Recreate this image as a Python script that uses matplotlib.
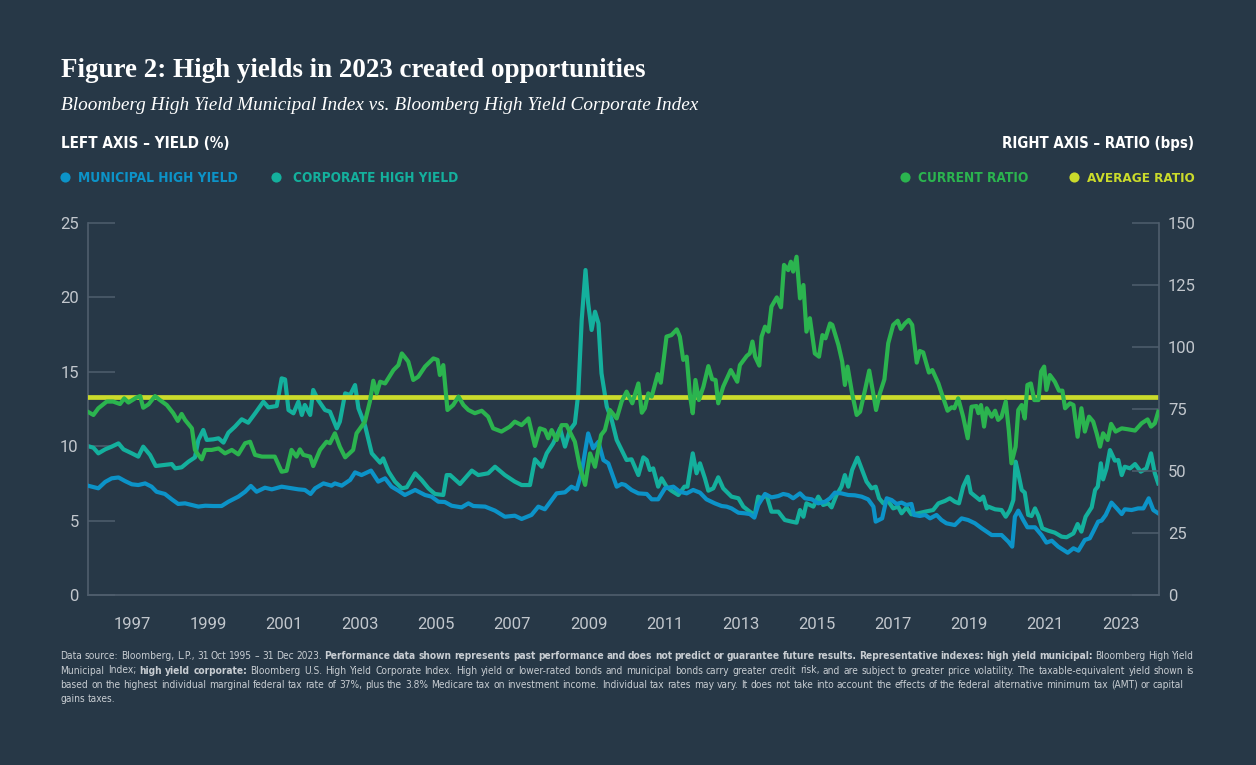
import matplotlib
matplotlib.use("Agg")
import matplotlib.pyplot as plt
from matplotlib import font_manager
from matplotlib.lines import Line2D
from matplotlib.transforms import IdentityTransform

# ---- values (fractional years) ----
muni_year = [
    1995.83, 1996.11, 1996.29, 1996.46, 1996.64, 1996.81, 1996.99, 1997.16, 1997.34, 1997.51,
    1997.64, 1997.86, 1998.04, 1998.21, 1998.39, 1998.57, 1998.74, 1998.92, 1999.13, 1999.35,
    1999.53, 1999.79, 1999.97, 2000.12, 2000.27, 2000.49, 2000.67, 2000.93, 2001.19, 2001.37,
    2001.54, 2001.69, 2001.81, 2002.03, 2002.24, 2002.33, 2002.51, 2002.73, 2002.86, 2003.03,
    2003.28, 2003.47, 2003.65, 2003.82, 2004.00, 2004.17, 2004.44, 2004.70, 2004.87, 2005.05,
    2005.22, 2005.40, 2005.66, 2005.84, 2005.97, 2006.28, 2006.54, 2006.80, 2007.06, 2007.24,
    2007.50, 2007.68, 2007.85, 2008.03, 2008.16, 2008.38, 2008.55, 2008.69, 2008.82, 2008.99,
    2009.12, 2009.26, 2009.39, 2009.52, 2009.74, 2009.87, 2009.96, 2010.13, 2010.31, 2010.53,
    2010.66, 2010.83, 2011.01, 2011.23, 2011.40, 2011.58, 2011.75, 2011.93, 2012.10, 2012.32,
    2012.50, 2012.63, 2012.76, 2012.94, 2013.11, 2013.24, 2013.36, 2013.46, 2013.64, 2013.81,
    2013.99, 2014.12, 2014.25, 2014.38, 2014.56, 2014.69, 2014.87, 2015.04, 2015.22, 2015.35,
    2015.48, 2015.65, 2015.83, 2016.00, 2016.18, 2016.35, 2016.49, 2016.55, 2016.72, 2016.84,
    2016.97, 2017.10, 2017.23, 2017.36, 2017.49, 2017.56, 2017.71, 2017.85, 2017.98, 2018.15,
    2018.28, 2018.41, 2018.63, 2018.81, 2018.98, 2019.16, 2019.34, 2019.60, 2019.86, 2020.04,
    2020.14, 2020.21, 2020.30, 2020.43, 2020.54, 2020.74, 2020.91, 2021.04, 2021.18, 2021.35,
    2021.60, 2021.75, 2021.88, 2022.05, 2022.18, 2022.27, 2022.40, 2022.49, 2022.60, 2022.75,
    2022.89, 2023.02, 2023.10, 2023.28, 2023.45, 2023.59, 2023.73, 2023.85, 2023.98,
]
muni_yield = [
    7.35, 7.17, 7.6, 7.84, 7.9, 7.66, 7.44, 7.39, 7.5, 7.28,
    6.94, 6.79, 6.43, 6.12, 6.16, 6.05, 5.94, 6.0, 5.98, 5.98,
    6.27, 6.61, 6.94, 7.33, 6.94, 7.21, 7.1, 7.28, 7.17, 7.1,
    7.06, 6.79, 7.17, 7.5, 7.35, 7.5, 7.35, 7.73, 8.24, 8.06,
    8.36, 7.62, 7.84, 7.28, 7.01, 6.72, 7.06, 6.72, 6.61, 6.27,
    6.25, 6.0, 5.89, 6.16, 5.98, 5.94, 5.67, 5.26, 5.33, 5.11,
    5.38, 5.94, 5.76, 6.38, 6.83, 6.9, 7.28, 7.1, 8.29, 10.86,
    9.86, 10.3, 9.07, 8.85, 7.28, 7.46, 7.4, 7.06, 6.83, 6.79,
    6.43, 6.43, 7.17, 7.28, 6.94, 6.83, 7.06, 6.88, 6.43, 6.16,
    5.98, 5.94, 5.82, 5.53, 5.49, 5.44, 5.2, 6.05, 6.79, 6.56,
    6.65, 6.79, 6.72, 6.5, 6.83, 6.5, 6.43, 6.16, 6.27, 6.5,
    6.88, 6.83, 6.72, 6.7, 6.61, 6.43, 5.94, 4.93, 5.15, 6.5,
    6.38, 6.12, 6.21, 6.05, 6.12, 5.38, 5.31, 5.38, 5.15, 5.38,
    5.04, 4.82, 4.7, 5.15, 5.04, 4.82, 4.48, 4.03, 4.03, 3.58,
    3.25, 5.26, 5.67, 5.04, 4.55, 4.55, 4.03, 3.52, 3.65, 3.25,
    2.84, 3.14, 2.98, 3.7, 3.81, 4.26, 4.93, 5.0, 5.38, 6.21,
    5.82, 5.44, 5.76, 5.71, 5.82, 5.82, 6.5, 5.71, 5.49,
]

corp_year = [
    1995.83, 1995.98, 1996.11, 1996.29, 1996.46, 1996.64, 1996.77, 1996.99, 1997.16, 1997.29,
    1997.47, 1997.62, 1997.86, 1998.04, 1998.13, 1998.30, 1998.48, 1998.65, 1998.74, 1998.87,
    1998.96, 1999.13, 1999.27, 1999.40, 1999.53, 1999.70, 1999.88, 2000.05, 2000.23, 2000.45,
    2000.58, 2000.80, 2000.93, 2001.02, 2001.11, 2001.24, 2001.37, 2001.46, 2001.54, 2001.68,
    2001.76, 2001.89, 2002.07, 2002.20, 2002.38, 2002.46, 2002.60, 2002.73, 2002.86, 2002.95,
    2003.12, 2003.30, 2003.52, 2003.60, 2003.74, 2003.91, 2004.09, 2004.22, 2004.44, 2004.61,
    2004.79, 2004.96, 2005.18, 2005.27, 2005.36, 2005.62, 2005.93, 2006.10, 2006.36, 2006.54,
    2006.80, 2007.06, 2007.24, 2007.46, 2007.59, 2007.77, 2007.90, 2008.07, 2008.25, 2008.38,
    2008.51, 2008.64, 2008.73, 2008.82, 2008.92, 2008.99, 2009.08, 2009.17, 2009.26, 2009.34,
    2009.48, 2009.61, 2009.74, 2009.87, 2010.00, 2010.13, 2010.31, 2010.44, 2010.53, 2010.61,
    2010.70, 2010.83, 2010.92, 2011.05, 2011.18, 2011.36, 2011.52, 2011.60, 2011.74, 2011.84,
    2011.93, 2012.06, 2012.15, 2012.28, 2012.41, 2012.54, 2012.76, 2012.94, 2013.07, 2013.24,
    2013.37, 2013.46, 2013.55, 2013.68, 2013.81, 2013.99, 2014.16, 2014.34, 2014.47, 2014.56,
    2014.65, 2014.73, 2014.91, 2015.04, 2015.17, 2015.30, 2015.39, 2015.52, 2015.65, 2015.74,
    2015.83, 2015.93, 2016.07, 2016.20, 2016.31, 2016.44, 2016.55, 2016.64, 2016.75, 2016.86,
    2017.01, 2017.14, 2017.23, 2017.36, 2017.49, 2017.67, 2017.85, 2018.06, 2018.20, 2018.37,
    2018.50, 2018.63, 2018.74, 2018.85, 2018.97, 2019.05, 2019.16, 2019.29, 2019.38, 2019.47,
    2019.51, 2019.69, 2019.86, 2019.97, 2020.08, 2020.17, 2020.23, 2020.30, 2020.39, 2020.47,
    2020.56, 2020.65, 2020.74, 2020.83, 2020.93, 2021.09, 2021.26, 2021.44, 2021.57, 2021.75,
    2021.86, 2021.96, 2022.07, 2022.23, 2022.32, 2022.39, 2022.47, 2022.53, 2022.62, 2022.71,
    2022.84, 2022.93, 2023.02, 2023.10, 2023.24, 2023.37, 2023.52, 2023.67, 2023.79, 2023.89,
    2023.98,
]
corp_yield = [
    10.01, 9.9, 9.52, 9.79, 9.97, 10.19, 9.79, 9.52, 9.3, 9.97,
    9.41, 8.67, 8.74, 8.8, 8.51, 8.58, 8.96, 9.25, 10.42, 11.09,
    10.42, 10.46, 10.53, 10.24, 10.91, 11.31, 11.81, 11.58, 12.2, 12.99,
    12.61, 12.7, 14.56, 14.49, 12.43, 12.21, 12.99, 12.1, 12.77, 12.1,
    13.78, 13.1, 12.43, 12.32, 11.2, 11.65, 13.55, 13.44, 14.11, 12.54,
    11.42, 9.52, 8.89, 9.18, 8.29, 7.62, 7.17, 7.24, 8.18, 7.73,
    7.17, 6.79, 6.72, 8.06, 8.06, 7.46, 8.36, 8.06, 8.18, 8.62,
    8.06, 7.62, 7.39, 7.39, 9.12, 8.62, 9.52, 10.19, 11.2, 9.97,
    11.09, 11.54, 13.55, 18.48, 21.84, 19.6, 17.81, 19.04, 18.26, 14.9,
    12.66, 11.76, 10.42, 9.74, 9.07, 9.12, 8.06, 9.25, 9.07, 8.4,
    8.51, 7.28, 7.84, 7.28, 7.01, 6.72, 7.28, 7.28, 9.52, 8.18,
    8.85, 7.84, 7.01, 7.17, 7.91, 7.17, 6.61, 6.5, 5.94, 5.6,
    5.38, 6.61, 6.5, 6.72, 5.6, 5.6, 5.04, 4.93, 4.86, 5.71,
    5.26, 6.16, 5.94, 6.61, 6.05, 6.16, 5.89, 6.72, 7.28, 8.06,
    7.28, 8.4, 9.23, 8.36, 7.62, 7.17, 7.28, 6.5, 6.16, 6.38,
    5.82, 5.94, 5.49, 5.89, 5.42, 5.49, 5.6, 5.71, 6.16, 6.32,
    6.5, 6.27, 6.16, 7.28, 7.95, 6.88, 6.65, 6.38, 6.61, 5.82,
    5.94, 5.76, 5.71, 5.26, 5.71, 6.38, 8.96, 8.18, 7.06, 6.88,
    5.38, 5.31, 5.82, 5.31, 4.48, 4.32, 4.19, 3.92, 3.88, 4.14,
    4.77, 4.26, 5.26, 5.89, 7.06, 7.28, 8.85, 7.77, 8.51, 9.74,
    9.03, 9.07, 8.06, 8.62, 8.51, 8.8, 8.29, 8.51, 9.52, 8.18,
    7.5,
]

ratio_year = [
    1995.83, 1995.98, 1996.11, 1996.33, 1996.50, 1996.68, 1996.79, 1996.90, 1997.12, 1997.21,
    1997.29, 1997.43, 1997.60, 1997.73, 1997.91, 1998.08, 1998.20, 1998.30, 1998.39, 1998.57,
    1998.65, 1998.74, 1998.83, 1998.92, 1999.09, 1999.27, 1999.44, 1999.62, 1999.79, 1999.97,
    2000.10, 2000.23, 2000.41, 2000.75, 2000.93, 2001.06, 2001.19, 2001.32, 2001.41, 2001.50,
    2001.68, 2001.76, 2001.94, 2002.11, 2002.20, 2002.33, 2002.46, 2002.60, 2002.81, 2002.90,
    2003.12, 2003.25, 2003.34, 2003.43, 2003.52, 2003.65, 2003.87, 2004.00, 2004.09, 2004.16,
    2004.26, 2004.39, 2004.52, 2004.70, 2004.92, 2005.03, 2005.09, 2005.18, 2005.29, 2005.44,
    2005.58, 2005.71, 2005.84, 2006.01, 2006.19, 2006.36, 2006.49, 2006.71, 2006.93, 2007.06,
    2007.24, 2007.42, 2007.59, 2007.72, 2007.85, 2007.94, 2008.03, 2008.16, 2008.29, 2008.42,
    2008.64, 2008.77, 2008.91, 2009.04, 2009.17, 2009.33, 2009.43, 2009.56, 2009.74, 2009.87,
    2010.00, 2010.15, 2010.31, 2010.40, 2010.48, 2010.57, 2010.66, 2010.82, 2010.90, 2011.05,
    2011.18, 2011.32, 2011.40, 2011.49, 2011.58, 2011.67, 2011.74, 2011.81, 2011.90, 2012.02,
    2012.15, 2012.25, 2012.34, 2012.41, 2012.54, 2012.74, 2012.91, 2012.98, 2013.16, 2013.24,
    2013.31, 2013.38, 2013.49, 2013.55, 2013.64, 2013.73, 2013.81, 2013.95, 2014.06, 2014.14,
    2014.25, 2014.32, 2014.38, 2014.47, 2014.56, 2014.65, 2014.73, 2014.82, 2014.95, 2015.06,
    2015.15, 2015.23, 2015.35, 2015.41, 2015.57, 2015.67, 2015.74, 2015.81, 2015.93, 2016.05,
    2016.14, 2016.27, 2016.38, 2016.47, 2016.56, 2016.66, 2016.78, 2016.88, 2017.01, 2017.13,
    2017.21, 2017.32, 2017.42, 2017.51, 2017.63, 2017.71, 2017.80, 2017.95, 2018.04, 2018.20,
    2018.30, 2018.44, 2018.55, 2018.62, 2018.72, 2018.85, 2018.97, 2019.07, 2019.20, 2019.25,
    2019.32, 2019.40, 2019.47, 2019.60, 2019.69, 2019.77, 2019.86, 2019.97, 2020.05, 2020.12,
    2020.23, 2020.30, 2020.39, 2020.47, 2020.54, 2020.63, 2020.72, 2020.83, 2020.90, 2020.98,
    2021.04, 2021.13, 2021.26, 2021.37, 2021.46, 2021.53, 2021.66, 2021.75, 2021.86, 2021.96,
    2022.05, 2022.16, 2022.27, 2022.36, 2022.45, 2022.53, 2022.65, 2022.74, 2022.86, 2023.02,
    2023.19, 2023.37, 2023.54, 2023.70, 2023.79, 2023.89, 2023.98,
]
ratio_bps = [
    73.9, 72.6, 75.3, 78, 78, 77, 79.3, 77.6, 79.7, 80.2,
    75.5, 76.9, 80.2, 78.6, 76.6, 73.3, 70.2, 73, 70.6, 67.2,
    58.5, 56.5, 54.7, 58.5, 58.5, 59.1, 57.1, 58.5, 56.7, 61.2,
    61.8, 56.5, 55.8, 55.8, 49.7, 50.1, 58.5, 55.8, 58.7, 56.5,
    55.8, 52, 58.5, 61.8, 61.2, 65.2, 59.8, 55.5, 58.5, 65.2,
    69.9, 78, 86.4, 81.3, 86, 85.3, 90.7, 92.7, 97.4, 96.1,
    94.1, 86.7, 88, 92.1, 95.4, 94.8, 88.7, 92.7, 74.6, 76.6,
    80, 76.6, 74.6, 73.3, 74.3, 71.9, 67.2, 65.9, 67.9, 69.9,
    68.5, 71.2, 60.1, 67.2, 66.5, 63.2, 66.5, 62.5, 68.5, 68.5,
    61.8, 51.7, 44.4, 57.1, 51.7, 64.5, 66.5, 74.6, 71.2, 78,
    82, 77.3, 85.3, 73.5, 75.3, 81.3, 80, 89.1, 85.6, 104.2,
    104.8, 107.1, 104.2, 94.8, 96.1, 80, 73.3, 86.7, 78.6, 84,
    92.3, 87, 86.7, 77.3, 84, 90.7, 86, 92.7, 96.4, 97.4,
    102.2, 96.1, 92.5, 104.2, 108.2, 106.2, 116.3, 120, 116, 133.1,
    131, 134.4, 130.4, 136.4, 119.6, 125, 106.2, 111.6, 97.4, 96.1,
    104.8, 103.5, 109.5, 108.9, 100.8, 94.1, 84.7, 92.1, 81.3, 72.6,
    73.9, 82.7, 90.5, 82.7, 74.6, 81.3, 87, 101.5, 108.9, 110.6,
    107.3, 109.5, 110.9, 108.9, 93.7, 98.4, 97.8, 89.7, 90.7, 85.3,
    80.6, 74.3, 75.7, 75.3, 79.3, 71.9, 63.2, 75.9, 76.2, 73.3,
    76.6, 67.9, 75.3, 71.9, 74.3, 70.6, 71.9, 78, 66.5, 53.1,
    59.8, 74.6, 76.6, 71.2, 84.7, 85.3, 78.6, 78.6, 90.1, 92.1,
    82.7, 88.7, 86, 82.4, 82.4, 75.3, 77.3, 76.6, 63.8, 75.3,
    65.9, 71.9, 69.9, 65.2, 59.8, 65.2, 62.5, 69, 65.9, 67.2,
    66.8, 66.3, 69.2, 70.8, 67.9, 69.2, 73.9,
]
avg_ratio = 80

year_ticks = list(range(1997, 2024, 2))
yield_ticks = [0, 5, 10, 15, 20, 25]
ratio_ticks = [0, 25, 50, 75, 100, 125, 150]

# ---- style ----
BG = "#273847"
SPINE = "#4f5e6d"
TICKTXT = "#c2c7cd"
NOTE = "#c8cdd2"
BLUE = "#0c93c8"
TEAL = "#14b09d"
GREEN = "#2bb44f"
YELLOW = "#cbdb2b"

_fonts = {(f.name, str(f.stretch)) for f in font_manager.fontManager.ttflist}
_names = {n for n, _ in _fonts}
if "Liberation Sans Narrow" in _names:
    COND = {"family": "Liberation Sans Narrow"}
elif "DejaVu Sans Condensed" in _names:
    COND = {"family": "DejaVu Sans Condensed"}
elif ("DejaVu Sans", "condensed") in _fonts:
    COND = {"family": "DejaVu Sans", "fontstretch": "condensed"}
else:
    COND = {"family": "Roboto"}

W, H = 1256, 765
fig = plt.figure(figsize=(W / 100, H / 100), dpi=100, facecolor=BG)
IDT = IdentityTransform()
renderer = fig.canvas.get_renderer()

# plot box in pixels: x 87.7..1159, y 223..595
ax = fig.add_axes([87.7 / W, 1 - 595 / H, (1159 - 87.7) / W, (595 - 223) / H])
ax.set_facecolor(BG)
ax2 = ax.twinx()

ax.plot(corp_year, corp_yield, color=TEAL, lw=3.0, solid_joinstyle="round", zorder=2)
ax.plot(muni_year, muni_yield, color=BLUE, lw=3.0, solid_joinstyle="round", zorder=3)
ax2.axhline(avg_ratio, color=YELLOW, lw=3.4, zorder=2)
ax2.plot(ratio_year, ratio_bps, color=GREEN, lw=3.0, solid_joinstyle="round", zorder=3)

ax.set_xlim(1995.83, 2024.0)
ax.set_ylim(0, 25)
ax2.set_ylim(0, 150)

ax.set_xticks(year_ticks, [str(y) for y in year_ticks], fontfamily="Roboto")
ax.set_yticks(yield_ticks, [str(v) for v in yield_ticks], fontfamily="Roboto")
ax2.set_yticks(ratio_ticks, [str(v) for v in ratio_ticks], fontfamily="Roboto")

for s in ("top", "right"):
    ax.spines[s].set_visible(False)
for s in ("top", "left", "bottom"):
    ax2.spines[s].set_visible(False)
for sp in (ax.spines["left"], ax.spines["bottom"], ax2.spines["right"]):
    sp.set_color(SPINE)
    sp.set_linewidth(1.2)

ax.tick_params(axis="x", length=0, pad=16, labelsize=12, labelcolor=TICKTXT)
ax.tick_params(axis="y", direction="in", length=19.5, width=1.1, color=SPINE,
               pad=6.5, labelsize=12, labelcolor=TICKTXT)
ax2.tick_params(axis="y", direction="in", length=19.5, width=1.1, color=SPINE,
                pad=6.5, labelsize=12, labelcolor=TICKTXT)


def px_text(x, y, s, width=None, size=12, **kw):
    """Text at image pixel (x, baseline y); optionally scaled to a pixel width."""
    t = fig.text(x, H - y, s, transform=IDT, fontsize=size, va="baseline", **kw)
    if width:
        w = t.get_window_extent(renderer).width
        t.set_fontsize(size * width / w)
    return t


def dot(x, y, color):
    fig.add_artist(Line2D([x], [H - y], transform=IDT, marker="o", markersize=7.3,
                          color=color, markeredgewidth=0))


# ---- header ----
px_text(61, 77, "Figure 2: High yields in 2023 created opportunities", width=587,
        size=17, family="Liberation Serif", fontweight="bold", color="white")
px_text(61, 110, "Bloomberg High Yield Municipal Index vs. Bloomberg High Yield Corporate Index",
        width=637, size=13, family="Liberation Serif", style="italic", color="white")
px_text(61, 148, "LEFT AXIS – YIELD (%)", width=168, size=12, fontweight="bold",
        color="white", **COND)
px_text(1194.5, 148, "RIGHT AXIS – RATIO (bps)", width=192, size=12, fontweight="bold",
        color="white", ha="right", **COND)

legend_items = [
    (65.4, 78, "MUNICIPAL HIGH YIELD", 160, BLUE),
    (275.7, 293, "CORPORATE HIGH YIELD", 165, TEAL),
    (905, 917.7, "CURRENT RATIO", 110.6, GREEN),
    (1073.7, 1086.7, "AVERAGE RATIO", 107.6, YELLOW),
]
for dx, tx, label, w, c in legend_items:
    dot(dx, 176.7, c)
    px_text(tx, 181.5, label, width=w, size=12, fontweight="bold", color=c, **COND)

# ---- footnote, drawn word by word so bold runs sit inline ----
note_lines = [
    [("Data source: Bloomberg, L.P., 31 Oct 1995 – 31 Dec 2023.", "normal"),
     ("Performance data shown represents past performance and does not predict or "
      "guarantee future results. Representative indexes: high yield municipal:", "bold"),
     ("Bloomberg High Yield", "normal")],
    [("Municipal Index;", "normal"), ("high yield corporate:", "bold"),
     ("Bloomberg U.S. High Yield Corporate Index. High yield or lower-rated bonds and "
      "municipal bonds carry greater credit risk, and are subject to greater price "
      "volatility. The taxable-equivalent yield shown is", "normal")],
    [("based on the highest individual marginal federal tax rate of 37%, plus the 3.8% "
      "Medicare tax on investment income. Individual tax rates may vary. It does not take "
      "into account the effects of the federal alternative minimum tax (AMT) or capital",
      "normal")],
    [("gains taxes.", "normal")],
]
note_base = [659.3, 673.5, 687.8, 702]
note_right = [1194, 1194, 1184, None]
note_left = 60.5

words = []
for runs in note_lines:
    row = []
    for txt, wt in runs:
        for wd in txt.split():
            t = fig.text(0, 0, wd, transform=IDT, fontsize=10, va="baseline",
                         fontweight=wt, color=NOTE, **COND)
            row.append(t)
    words.append(row)

probe = fig.text(0, 0, "a a", transform=IDT, fontsize=10, **COND)
probe2 = fig.text(0, 0, "aa", transform=IDT, fontsize=10, **COND)
space = probe.get_window_extent(renderer).width - probe2.get_window_extent(renderer).width
probe.remove()
probe2.remove()

# one font size for the whole note: the widest line (relative to its end) sets it
ratios = []
for row, xr in zip(words, note_right):
    if xr is None:
        continue
    nat = sum(t.get_window_extent(renderer).width for t in row) + space * (len(row) - 1)
    ratios.append((xr - note_left) / nat)
size = 10 * min(ratios)
space *= size / 10
for row in words:
    for t in row:
        t.set_fontsize(size)

for row, yb, xr in zip(words, note_base, note_right):
    widths = [t.get_window_extent(renderer).width for t in row]
    gap = space
    if xr is not None:
        gap = min((xr - note_left - sum(widths)) / (len(row) - 1), space * 1.4)
    x = note_left
    for t, w in zip(row, widths):
        t.set_position((x, H - yb))
        x += w + gap

fig.savefig("out.png", dpi=100, facecolor=BG)
